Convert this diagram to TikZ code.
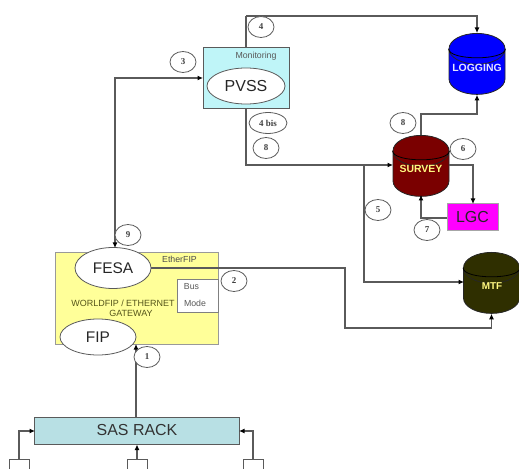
\documentclass[tikz,border=0pt]{standalone}
\usepackage{fontspec}
\setmainfont{Liberation Sans}
\newfontfamily\numfont{Liberation Serif}
\usetikzlibrary{shapes.geometric,arrows.meta,calc}
\definecolor{linegray}{HTML}{5A5A5A}
\definecolor{pvssfill}{HTML}{BFF5F8}
\definecolor{gateyellow}{HTML}{FFFF99}
\definecolor{rackfill}{HTML}{B8E0E4}
\definecolor{surveyred}{HTML}{7A0000}
\definecolor{mtfgreen}{HTML}{2F2F00}
\definecolor{lgcpink}{HTML}{FF00FF}
\definecolor{gatetext}{HTML}{55551A}
\tikzset{
  conn/.style={draw=linegray,line width=1.05bp,-{Latex[length=5.5bp,width=5bp,color=black]}},
  plainconn/.style={draw=linegray,line width=1.05bp},
  tag/.style={ellipse,draw=linegray,line width=0.8bp,fill=white,inner sep=0pt,minimum width=26bp,minimum height=21bp,font=\numfont\bfseries\fontsize{9}{10}\selectfont,text=black!75},
  oval/.style={ellipse,draw=linegray,line width=0.8bp,fill=white,inner sep=0pt,font=\fontsize{16}{18}\selectfont,text=black!85},
  box/.style={draw=linegray,line width=1bp,inner sep=0pt},
  drum/.style={cylinder,shape border rotate=90,aspect=0.72,anchor=north,draw=black!85,line width=0.8bp,inner sep=0pt,minimum width=56bp,minimum height=61bp,font=\bfseries\fontsize{10.5}{12}\selectfont},
  drumrim/.style={draw=black,line width=0.8bp},
  drumlabel/.style={inner sep=0pt,font=\bfseries\fontsize{10.5}{12}\selectfont},
  small/.style={inner sep=0pt,font=\fontsize{8.8}{10}\selectfont,text=black!65,align=center},
  feed/.style={box,fill=white,minimum width=20bp,minimum height=14bp}
}
\begin{document}
\begin{tikzpicture}[x=1bp,y=-1bp]
\useasboundingbox (0,0) rectangle (519,469);
% boxes
\node[box,fill=pvssfill,minimum width=86bp,minimum height=61bp] (pvssbox) at (246,78.5) {};
\node[box,fill=gateyellow,draw=black!40,minimum width=163bp,minimum height=91bp] (gate) at (136.5,298.5) {};
\node[box,fill=white,draw=black!50,minimum width=41bp,minimum height=33bp] (busbox) at (197.5,295.5) {};
\node[box,fill=rackfill,minimum width=204bp,minimum height=27bp,font=\fontsize{16}{18}\selectfont,text=black!80] (rack) at (137,430.5) {SAS RACK};
\node[box,fill=lgcpink,draw=black!35,minimum width=51bp,minimum height=27bp,font=\fontsize{16}{18}\selectfont,text=black!85] (lgc) at (472.5,217.5) {LGC};
% drums
\node[drum,fill=blue] (logging) at (477,33) {\phantom{SURVEY}};
\node[drum,fill=surveyred] (survey) at (421,135) {\phantom{SURVEY}};
\node[drum,fill=mtfgreen] (mtf) at (491.5,252) {\phantom{SURVEY}};
\foreach \d in {logging,survey,mtf}
  \draw[drumrim] (\d.before top) .. controls ($(\d.before top)+(0,12)$) and ($(\d.after top)+(0,12)$) .. (\d.after top);
\node[drumlabel,text=white!90!blue] (logtext) at (477,68) {LOGGING};
\node[drumlabel,text=yellow!50!white] (survtext) at (421,169) {SURVEY};
\node[drumlabel,text=yellow!50!white,font=\bfseries\fontsize{10}{12}\selectfont] (mtftext) at (492,286) {MTF};
% ovals
\node[oval,minimum width=78bp,minimum height=36bp] (pvss) at (246,86) {PVSS};
\node[oval,minimum width=76bp,minimum height=41bp,font=\fontsize{15.5}{18}\selectfont] (fesa) at (113,268) {FESA};
\node[oval,minimum width=76bp,minimum height=36bp,font=\fontsize{15.5}{18}\selectfont] (fip) at (98,337) {FIP};
% small text
\node[small] (monlabel) at (256,56) {Monitoring};
\node[small,text=black!70] (etherlabel) at (179.5,259.5) {EtherFIP};
\node[small] (buslabel) at (191.5,287) {Bus};
\node[small] (modelabel) at (195,303.5) {Mode};
\node[small,text=gatetext,font=\fontsize{9}{10}\selectfont] (gatelabel) at (123,308.5) {WORLDFIP / ETHERNET\\[0.5bp]\hspace*{16bp}GATEWAY};
% feeders
\node[feed,anchor=north] (fa) at (19,459) {};
\node[feed,anchor=north] (fb) at (137,459) {};
\node[feed,anchor=north] (fc) at (253,459) {};
% coordinates
\coordinate (topcorner) at (246,16);
\coordinate (lowcorner) at (246,165);
\coordinate (branch) at (364,165);
\coordinate (fesaoutx) at (345,268);
\coordinate (mtfcorner) at (345,328);
\coordinate (fipin) at (136,344);
\coordinate (rackout) at (136,417);
\coordinate (pvssleft) at (203,78);
\coordinate (fesatop) at (115,248);
\coordinate (survout) at (449,165);
\coordinate (lgcin) at (473,204);
\coordinate (lgcout) at (447,218);
\coordinate (survin) at (421,195);
\coordinate (mtfleft) at (464,282);
\coordinate (survleft) at (393,165);
\coordinate (rackl) at (35,431);
\coordinate (rackr) at (239,431);
% connectors
\draw[plainconn] (pvssbox.north) -- (topcorner);
\draw[conn] (topcorner) -| (logging.north);
\draw[conn] (survey.north) |- (449,114) -| (logging.south);
\draw[conn] (pvssbox.south) -- (lowcorner) -- (survleft);
\draw[conn] (branch) |- (mtfleft);
\draw[conn] (survout) -| (lgcin);
\draw[conn] (lgcout) -| (survin);
\draw[conn] (fesa.east) -- (fesaoutx) -- (mtfcorner) -| (mtf.south);
\draw[conn,{Latex[length=5.5bp,width=5bp,color=black]}-{Latex[length=5.5bp,width=5bp,color=black]}] (pvssleft) -| (fesatop);
\draw[conn] (rackout) -- (fipin);
\draw[conn] (fa.north) |- (rackl);
\draw[conn] (fb.north) -- (fb.north |- rack.south);
\draw[conn] (fc.north) |- (rackr);
% tags
\node[tag] (t1) at (147,357) {1};
\node[tag] (t2) at (234,281) {2};
\node[tag] (t3) at (183,62) {3};
\node[tag] (t4) at (261,27) {4};
\node[tag,minimum width=38bp] (t4b) at (268,123) {4 bis};
\node[tag] (t8a) at (266,148) {8};
\node[tag] (t8b) at (403,123) {8};
\node[tag] (t6) at (463,149) {6};
\node[tag] (t5) at (378,210) {5};
\node[tag] (t7) at (427,230) {7};
\node[tag] (t9) at (128,235) {9};
\end{tikzpicture}
\end{document}
